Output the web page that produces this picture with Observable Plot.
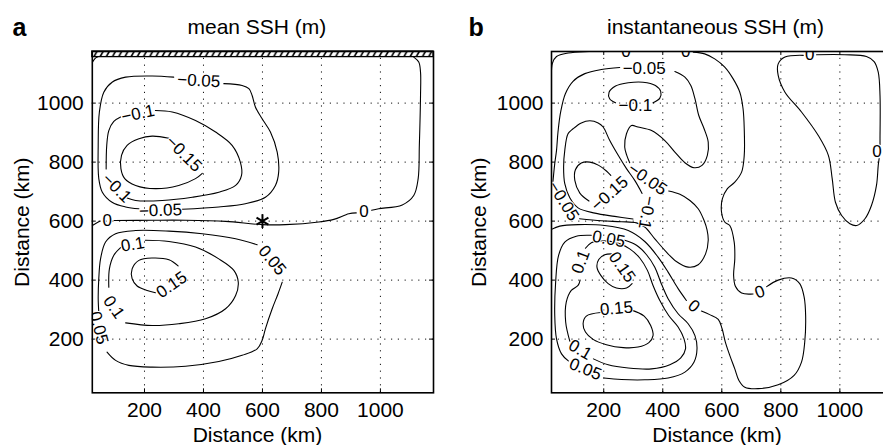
<!DOCTYPE html>
<html><head><meta charset="utf-8">
<script src="https://cdn.jsdelivr.net/npm/d3@7"></script>
<script src="https://cdn.jsdelivr.net/npm/@observablehq/plot@0.6"></script>
<style>
html,body{margin:0;padding:0;background:#fff;overflow:hidden;width:883px;height:445px}
#wrap{position:relative;width:883px;height:445px;overflow:hidden;background:#fff}
#wrap svg{position:absolute;top:0}
</style></head><body><div id="wrap"></div>
<script>
// ---------- tick values (km) ----------
const xTicks = [200, 400, 600, 800, 1000];
const yTicks = [200, 400, 600, 800, 1000];
const xDomain = [23, 1180];
const yDomain = [18, 1175];

// ---------- panel a : mean SSH (m), contour polylines in km ----------
const meanZero = [
  [[23,585],[36,593],[50,600]],
  [[97,602],[226,603],[339,603],[475,599],[599,588],[678,588],[791,597],[842,606],[893,625],[918,628]],
  [[970,637],[994,642],[1074,655],[1113,687],[1128,744],[1132,857],[1136,1026],[1136,1105],[1130,1139],[1113,1156]],
  [[23,1138],[32,1151],[42,1157]]
];
const meanNeg005 = [
  [[299,1088],[226,1092],[136,1088],[90,1071],[62,1037],[47,970],[43,857],[45,744],[57,698],[90,664],[136,648],[181,642]],
  [[328,640],[452,648],[542,659],[610,681],[644,721],[655,766],[650,834],[627,902],[599,947],[576,987],[565,1026],[554,1049],[531,1060],[469,1066]]
];
const meanNeg010 = [
  [[237,975],[294,970],[373,941],[441,902],[497,857],[525,800],[529,755],[509,721],[452,698],[362,681],[260,670],[170,670],[141,678]],
  [[70,777],[72,857],[79,907],[96,938],[119,953]]
];
const meanNeg015 = [
  [[283,881],[226,888],[181,879],[141,857],[122,823],[120,778],[133,744],[170,721],[237,710],[316,721],[373,744],[396,762]]
];
const meanPos005 = [
  [[582,520],[509,540],[396,557],[283,566],[170,568],[102,557],[68,529],[51,472],[45,405],[43,337],[45,292]],
  [[73,156],[102,128],[147,111],[226,105],[339,108],[452,124],[531,145],[582,167],[599,196],[610,235],[633,303],[653,354],[667,393]]
];
const meanPos010 = [
  [[203,535],[283,531],[373,512],[452,472],[503,433],[518,393],[509,348],[475,303],[407,269],[316,252],[226,246],[136,255]],
  [[79,376],[81,438],[96,484],[119,510]]
];
const meanPos015 = [
  [[314,448],[283,469],[226,475],[181,467],[158,438],[158,405],[175,380],[209,365],[237,357]]
];
const meanLabels = [
  {t:"\u22120.05", x:384, y:1076, r:3},
  {t:"\u22120.1",  x:178, y:964,  r:-12},
  {t:"\u22120.15", x:333, y:828,  r:45},
  {t:"\u22120.1",  x:106, y:712,  r:45},
  {t:"\u22120.05", x:254, y:636,  r:-2},
  {t:"0",          x:74,  y:602,  r:0},
  {t:"0",          x:944, y:632,  r:0},
  {t:"0.1",        x:160, y:521,  r:-10},
  {t:"0.05",       x:633, y:467,  r:50},
  {t:"0.15",       x:292, y:384,  r:-35},
  {t:"0.1",        x:96,  y:308,  r:55},
  {t:"0.05",       x:45,  y:238,  r:75}
];
const meanStar = [{x:600, y:600}];
const hatchBand = [{y1:1156, y2:1175}];

// ---------- panel b : instantaneous SSH (m) ----------
const instZero = [
  [[23,1080],[26,1135],[40,1158],[80,1170],[150,1175],[250,1177]],
  [[300,1177],[455,1177]],
  [[503,1173],[542,1167],[576,1150],[610,1122],[638,1083],[661,1037],[672,981],[676,913],[676,823],[667,766],[644,732],[619,710],[602,676],[599,631],[610,597],[627,585],[642,529],[644,472],[640,416],[646,379],[667,356],[706,353]],
  [[752,378],[791,400],[836,407],[864,388],[879,342],[884,280],[881,190],[870,122],[845,77],[791,45],[723,32],[678,37],[658,60],[644,99],[627,145],[612,190],[601,235],[588,267],[559,283],[531,295]],
  [[480,331],[452,371],[418,427],[384,478],[339,531],[283,568],[203,585],[113,588],[51,583],[23,572]],
  [[876,1162],[814,1156],[791,1133],[791,1094],[814,1037],[870,970],[927,890],[961,823],[974,744],[985,664],[1006,619],[1034,591],[1057,585],[1085,608],[1107,653],[1124,721],[1130,789],[1133,812]],
  [[1136,860],[1136,879],[1136,1026],[1130,1105],[1116,1141],[1090,1158],[1017,1164],[921,1164]]
];
const instNeg005 = [
  [[254,1121],[192,1114],[136,1100],[96,1074],[70,1032],[54,970],[45,902],[40,840],[34,795],[28,735]],
  [[118,608],[192,601],[260,598],[311,594],[339,580],[373,540],[407,501],[446,463],[486,444],[520,452],[545,489],[554,535],[550,570],[540,602],[520,642],[492,670],[458,691],[420,702]],
  [[288,798],[278,823],[271,851],[277,896],[294,924],[316,919],[362,907],[407,873],[441,834],[475,798],[506,781],[533,789],[551,823],[554,868],[540,913],[522,958],[509,1015],[495,1060],[475,1088],[441,1107]]
];
const instNeg010 = [
  [[367,1001],[390,1017],[393,1040],[375,1060],[333,1071],[283,1069],[240,1058],[218,1037],[220,1015],[240,1001]],
  [[330,694],[305,738],[277,778],[249,823],[220,874],[198,919],[181,933],[153,940],[124,933],[96,913],[79,896],[68,840],[64,783],[68,727],[85,679],[113,645],[170,627],[237,616],[299,607]]
];
const instNeg015 = [
  [[150,668],[119,695],[102,738],[104,774],[124,797],[153,800],[183,789],[209,770],[224,755]]
];
const instPos005 = [
  [[271,535],[311,518],[345,486],[373,444],[393,393],[418,337],[452,286],[486,252],[509,212],[516,167],[506,122],[475,88],[418,68],[339,62],[260,63],[200,68]],
  [[80,126],[57,150],[40,201],[34,280],[37,393],[47,484],[68,529],[107,549],[158,552]]
];
const instPos010 = [
  [[138,508],[158,527],[198,533],[243,527],[288,506],[322,475],[348,433],[367,382],[390,331],[420,280],[452,241],[472,201],[477,167],[461,136],[424,113],[362,99],[283,102],[215,113],[165,133]],
  [[85,193],[71,258],[73,325],[90,365],[113,382],[120,400]]
];
const instPos015 = [
  [[226,489],[203,486],[183,470],[177,444],[190,416],[215,388],[243,373],[277,373],[296,388]],
  [[290,300],[337,278],[359,246],[367,212],[353,188],[316,173],[266,171],[209,181],[164,199],[138,224],[130,252],[141,278],[190,290]]
];
const instLabels = [
  {t:"0",          x:275, y:1176, r:0},
  {t:"0",          x:478, y:1176, r:0},
  {t:"0",          x:898, y:1163, r:0},
  {t:"0",          x:1126,y:836,  r:0},
  {t:"\u22120.05", x:337, y:1117, r:0},
  {t:"\u22120.1",  x:307, y:992,  r:0},
  {t:"\u22120.15", x:220, y:693,  r:-42},
  {t:"\u22120.05", x:348, y:742,  r:35},
  {t:"\u22120.1",  x:346, y:629,  r:100},
  {t:"\u22120.05", x:64,  y:668,  r:58},
  {t:"0.05",       x:217, y:539,  r:10},
  {t:"0.1",        x:122, y:462,  r:-70},
  {t:"0.15",       x:262, y:444,  r:55},
  {t:"0",          x:729, y:360,  r:-20},
  {t:"0",          x:505, y:312,  r:40},
  {t:"0.15",       x:243, y:304,  r:-5},
  {t:"0.1",        x:120, y:164,  r:30},
  {t:"0.05",       x:138, y:98,   r:22}
];

// ---------- helpers ----------
function toRows(groups) {
  const rows = [];
  groups.forEach((segs, gi) => segs.forEach((seg, si) =>
    seg.forEach(([x, y]) => rows.push({x, y, seg: gi + "-" + si}))));
  return rows;
}
const FONT = "'Liberation Sans', Arial, Helvetica, sans-serif";
const TICK_KM = 13.5; // inner tick length, in km (~4 px)

function panel({groups, labels, title, letter, width, mL, mR, titleDx, xlabDx, ylabDx, letterDx, ytickPad, extra}) {
  const rows = toRows(groups);
  const svg = Plot.plot({
    width, height: 445,
    marginLeft: mL, marginRight: mR, marginTop: 51, marginBottom: 52.7,
    x: {domain: xDomain, ticks: xTicks, tickSize: 0, tickPadding: 9, tickFormat: d => String(d), label: null},
    y: {domain: yDomain, ticks: yTicks, tickSize: 0, tickPadding: ytickPad, tickFormat: d => String(d), label: null},
    style: {fontFamily: FONT, fontSize: "21px", color: "black", background: "white", overflow: "visible"},
    marks: [
      Plot.ruleX(xTicks, {x: d => d, stroke: "#111", strokeWidth: 1, strokeDasharray: "1.2,5.6"}),
      Plot.ruleY(yTicks, {y: d => d, stroke: "#111", strokeWidth: 1, strokeDasharray: "1.2,5.6"}),
      Plot.ruleX(xTicks, {x: d => d, y1: yDomain[0], y2: yDomain[0] + TICK_KM, stroke: "black"}),
      Plot.ruleX(xTicks, {x: d => d, y1: yDomain[1] - TICK_KM, y2: yDomain[1], stroke: "black"}),
      Plot.ruleY(yTicks, {y: d => d, x1: xDomain[0], x2: xDomain[0] + TICK_KM, stroke: "black"}),
      Plot.ruleY(yTicks, {y: d => d, x1: xDomain[1] - TICK_KM, x2: xDomain[1], stroke: "black"}),
      ...(extra || []),
      Plot.line(rows, {x: "x", y: "y", z: "seg", stroke: "black", strokeWidth: 1.1, curve: "catmull-rom", clip: true}),
      Plot.text(labels, {x: "x", y: "y", text: "t", rotate: "r", fontSize: 17, fill: "black",
        stroke: "white", strokeWidth: 2, paintOrder: "stroke", clip: true}),
      Plot.frame({stroke: "black", strokeWidth: 1.6}),
      Plot.text([title], {text: d => d, frameAnchor: "top", dx: titleDx, dy: -18, lineAnchor: "bottom", fontSize: 21}),
      Plot.text([letter], {text: d => d, frameAnchor: "top-left", dx: letterDx, dy: -16, textAnchor: "start", lineAnchor: "bottom", fontSize: 25, fontWeight: "bold"}),
      Plot.text(["Distance (km)"], {text: d => d, frameAnchor: "bottom", dx: xlabDx, dy: 49.4, lineAnchor: "bottom", fontSize: 21}),
      Plot.text(["Distance (km)"], {text: d => d, frameAnchor: "left", dx: ylabDx, rotate: -90, textAnchor: "middle", lineAnchor: "middle", fontSize: 21})
    ]
  });
  return svg;
}

const wrap = document.getElementById("wrap");

// panel a
const svgA = panel({
  groups: [meanZero, meanNeg005, meanNeg010, meanNeg015, meanPos005, meanPos010, meanPos015],
  labels: meanLabels, title: "mean SSH (m)", letter: "a",
  width: 440, mL: 91.8, mR: 7, titleDx: -6, xlabDx: -5.5, ylabDx: -69.8, letterDx: -79.8, ytickPad: 8.5,
  extra: [
    Plot.rect(hatchBand, {x1: xDomain[0], x2: xDomain[1], y1: "y1", y2: "y2", fill: "white", stroke: "black", strokeWidth: 1.3})
  ]
});
svgA.style.left = "0px";
wrap.appendChild(svgA);
// star marker drawn after contours
{
  const star = Plot.plot({
    width: 440, height: 445, marginLeft: 91.8, marginRight: 7, marginTop: 51, marginBottom: 52.7,
    x: {domain: xDomain, axis: null}, y: {domain: yDomain, axis: null},
    style: {background: "transparent", overflow: "visible"},
    marks: [Plot.dot(meanStar, {x: "x", y: "y", symbol: "asterisk", r: 6.5, stroke: "black", strokeWidth: 2})]
  });
  star.style.left = "0px";
  star.style.background = "transparent";
  wrap.appendChild(star);
}
// hatch pattern for the top band of panel a
{
  const ns = "http://www.w3.org/2000/svg";
  const defs = document.createElementNS(ns, "defs");
  const pat = document.createElementNS(ns, "pattern");
  pat.setAttribute("id", "hatchPat");
  pat.setAttribute("patternUnits", "userSpaceOnUse");
  pat.setAttribute("width", "6.2");
  pat.setAttribute("height", "5.7");
  pat.setAttribute("x", "0");
  pat.setAttribute("y", "51");
  const bg = document.createElementNS(ns, "rect");
  bg.setAttribute("width", "6.2"); bg.setAttribute("height", "5.7"); bg.setAttribute("fill", "white");
  const p = document.createElementNS(ns, "path");
  p.setAttribute("d", "M0.8,5.9L4.2,-0.2");
  p.setAttribute("stroke", "black"); p.setAttribute("stroke-width", "1.6"); p.setAttribute("fill", "none");
  pat.appendChild(bg); pat.appendChild(p); defs.appendChild(pat);
  svgA.insertBefore(defs, svgA.firstChild);
  const g = svgA.querySelector('g[aria-label="rect"]');
  if (g) {
    g.setAttribute("fill", "url(#hatchPat)");
    g.querySelectorAll("rect").forEach(r => r.setAttribute("fill", "url(#hatchPat)"));
  }
}

// panel b
const svgB = panel({
  groups: [instZero, instNeg005, instNeg010, instNeg015, instPos005, instPos010, instPos015],
  labels: instLabels, title: "instantaneous SSH (m)", letter: "b",
  width: 460, mL: 111, mR: 7.5, titleDx: -6.7, xlabDx: -5.2, ylabDx: -72, letterDx: -83, ytickPad: 8,
  extra: []
});
svgB.style.left = "440px";
wrap.appendChild(svgB);
</script></body></html>
